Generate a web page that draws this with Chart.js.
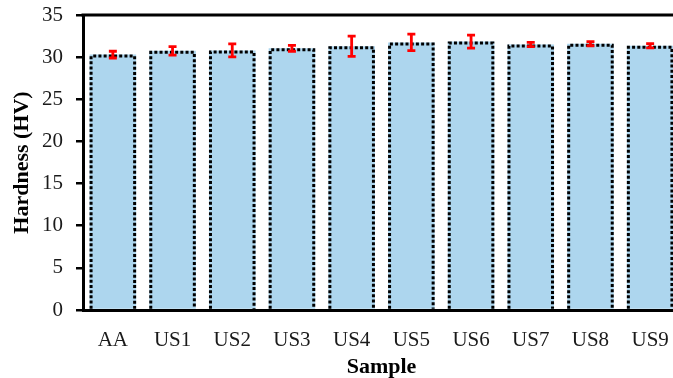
<!DOCTYPE html>
<html>
<head>
<meta charset="utf-8">
<script src="https://cdn.jsdelivr.net/npm/chart.js@4/dist/chart.umd.min.js"></script>
<style>
  html, body { margin: 0; padding: 0; background: #fff; overflow: hidden; }
  #wrap { width: 673px; height: 378px; overflow: hidden; }
</style>
</head>
<body>
<div id="wrap"><canvas id="chart" width="690" height="378"></canvas></div>
<script>
/* 資料 */
var samples  = ['AA', 'US1', 'US2', 'US3', 'US4', 'US5', 'US6', 'US7', 'US8', 'US9'];
var hardness = [30.3, 30.75, 30.8, 31.05, 31.3, 31.75, 31.85, 31.5, 31.6, 31.35];
var errors   = [0.4, 0.5, 0.77, 0.35, 1.2, 0.97, 0.77, 0.25, 0.25, 0.25];
var yTicks   = [0, 5, 10, 15, 20, 25, 30, 35];

var serif = '"Liberation Serif", "Times New Roman", serif';

/* 虛線框 + 誤差線 + 上框線 */
var decorPlugin = {
    id: 'decor',
    afterDatasetsDraw(chart) {
        var ctx = chart.ctx;
        var meta = chart.getDatasetMeta(0);
        var y = chart.scales.y;
        var area = chart.chartArea;

        // 每根柱子的點狀外框
        ctx.save();
        ctx.strokeStyle = '#000';
        ctx.lineWidth = 3;
        ctx.setLineDash([3, 2.2]);
        meta.data.forEach(function (bar) {
            var p = bar.getProps(['x', 'y', 'width', 'base'], true);
            var l = p.x - p.width / 2 + 1.5, r = p.x + p.width / 2 - 1.5;
            ctx.beginPath();
            ctx.moveTo(l, p.base);
            ctx.lineTo(l, p.y + 1.5);
            ctx.lineTo(r, p.y + 1.5);
            ctx.lineTo(r, p.base);
            ctx.stroke();
        });
        ctx.restore();

        // 誤差線
        ctx.save();
        ctx.strokeStyle = '#FF0000';
        ctx.lineWidth = 2.8;
        meta.data.forEach(function (bar, i) {
            var x = bar.x;
            var hi = y.getPixelForValue(hardness[i] + errors[i]);
            var lo = y.getPixelForValue(hardness[i] - errors[i]);
            ctx.beginPath();
            ctx.moveTo(x, hi); ctx.lineTo(x, lo);
            ctx.moveTo(x - 4, hi); ctx.lineTo(x + 4, hi);
            ctx.moveTo(x - 4, lo); ctx.lineTo(x + 4, lo);
            ctx.stroke();
        });
        ctx.restore();

        // 上方框線
        ctx.save();
        ctx.strokeStyle = '#000';
        ctx.lineWidth = 3;
        ctx.beginPath();
        ctx.moveTo(area.left - 1.5, area.top);
        ctx.lineTo(area.right, area.top);
        ctx.stroke();
        ctx.restore();
    }
};

new Chart(document.getElementById('chart'), {
    type: 'bar',
    data: {
        labels: samples,
        datasets: [{
            data: hardness,
            backgroundColor: '#ADD6EE',
            borderWidth: 0,
            categoryPercentage: 1,
            barPercentage: 0.78
        }]
    },
    options: {
        responsive: false,
        animation: false,
        devicePixelRatio: 1,
        layout: { padding: { top: 15, right: 10, left: 0, bottom: 0 } },
        plugins: { legend: { display: false }, tooltip: { enabled: false } },
        scales: {
            x: {
                grid: { display: false },
                border: { display: true, color: '#000', width: 3 },
                ticks: {
                    color: '#1a1a1a',
                    font: { family: serif, size: 21 },
                    padding: 10,
                    maxRotation: 0
                },
                title: {
                    display: true,
                    text: 'Sample',
                    color: '#000',
                    font: { family: serif, size: 22, weight: 'bold' },
                    padding: { top: 0, bottom: -3 }
                },
                afterFit: function (scale) {
                    scale.height = 68;
                    scale.paddingLeft = 0;
                    scale.paddingRight = 0;
                }
            },
            y: {
                min: 0,
                max: 35,
                afterBuildTicks: function (scale) {
                    scale.ticks = yTicks.map(function (v) { return { value: v }; });
                },
                grid: {
                    display: true,
                    drawOnChartArea: false,
                    drawTicks: true,
                    tickLength: 7,
                    color: '#000',
                    lineWidth: 2.5
                },
                border: { display: true, color: '#000', width: 3 },
                ticks: {
                    color: '#1a1a1a',
                    font: { family: serif, size: 21 },
                    padding: 13
                },
                title: {
                    display: true,
                    text: 'Hardness (HV)',
                    color: '#000',
                    font: { family: serif, size: 22, weight: 'bold' },
                    padding: { top: 9, bottom: 0 }
                },
                afterFit: function (scale) {
                    scale.width = 83;
                    scale.paddingTop = 0;
                    scale.paddingBottom = 0;
                }
            }
        }
    },
    plugins: [decorPlugin]
});
</script>
</body>
</html>
